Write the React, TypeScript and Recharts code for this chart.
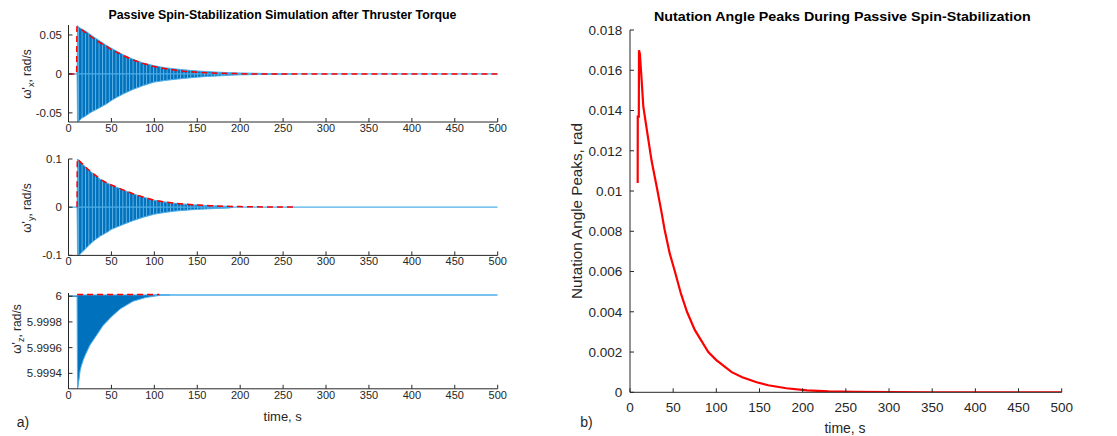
import React from 'react';
import { ComposedChart, LineChart, Line, Area, XAxis, YAxis } from 'recharts';

// ---------- data ----------
const timeTicks = [0, 50, 100, 150, 200, 250, 300, 350, 400, 450, 500];
const wxTicks = [-0.05, 0, 0.05];
const wyTicks = [-0.1, 0, 0.1];
const wzTicks = [5.9994, 5.9996, 5.9998, 6];
const nutTicks = [0, 0.002, 0.004, 0.006, 0.008, 0.01, 0.012, 0.014, 0.016, 0.018];

// omega_x oscillation envelope (upper / lower)
const wxBandTimes = [10, 10.5, 12, 15, 20, 25, 30, 37, 45, 50, 58, 65, 75, 87, 100, 112, 125, 137, 150, 162, 175, 187, 200, 215, 235, 260];
const wxHigh = [0, 0.062, 0.06, 0.058, 0.055, 0.051, 0.047, 0.042, 0.036, 0.033, 0.028, 0.024, 0.019, 0.014, 0.0105, 0.008, 0.0064, 0.005, 0.0038, 0.003, 0.0022, 0.0016, 0.0012, 0.0009, 0.0005, 0];
const wxLow = [0, -0.062, -0.061, -0.057, -0.054, -0.05, -0.047, -0.043, -0.038, -0.034, -0.029, -0.025, -0.02, -0.015, -0.0105, -0.0085, -0.0068, -0.0055, -0.0042, -0.0032, -0.0025, -0.0018, -0.0012, -0.0009, -0.0005, 0];
const wxPeakTimes = [0, 9.5, 9.8, 15, 20, 25, 30, 37, 45, 50, 58, 65, 75, 87, 100, 112, 125, 134, 150, 165, 180, 195, 210, 500];
const wxPeaks = [0, 0, 0.06, 0.057, 0.053, 0.049, 0.045, 0.04, 0.035, 0.031, 0.027, 0.023, 0.018, 0.0135, 0.0094, 0.007, 0.0048, 0.0035, 0.0022, 0.0012, 0.0008, 0.0004, 0, 0];
const wxBaseTimes = [0, 500];
const wxBase = [0, 0];

// omega_y oscillation envelope
const wyBandTimes = [10, 10.5, 12, 15, 20, 25, 30, 37, 45, 50, 58, 65, 75, 87, 100, 112, 125, 137, 150, 162, 175, 187, 192];
const wyHigh = [0, 0.1, 0.098, 0.092, 0.083, 0.075, 0.068, 0.058, 0.05, 0.046, 0.04, 0.035, 0.028, 0.021, 0.0145, 0.011, 0.008, 0.0062, 0.0045, 0.0035, 0.0025, 0.0018, 0];
const wyLow = [0, -0.1, -0.1, -0.095, -0.086, -0.077, -0.069, -0.06, -0.052, -0.046, -0.04, -0.035, -0.028, -0.021, -0.0145, -0.011, -0.008, -0.0062, -0.0045, -0.0035, -0.0025, -0.0018, 0];
const wyPeakTimes = [10, 10.2, 15, 20, 25, 30, 37, 45, 50, 58, 65, 75, 87, 100, 112, 125, 137, 150, 165, 180, 200, 230, 262];
const wyPeaks = [0, 0.1, 0.092, 0.083, 0.075, 0.068, 0.058, 0.05, 0.046, 0.04, 0.035, 0.028, 0.021, 0.0145, 0.011, 0.008, 0.006, 0.0045, 0.003, 0.002, 0.0012, 0.0005, 0.0002];
const wyBaseTimes = [0, 500];
const wyBase = [0, 0];

// omega_z oscillation envelope
const wzBandTimes = [10, 10.5, 11, 12, 13.5, 15, 17.5, 20, 25, 30, 35, 40, 50, 60, 75, 90, 100, 110, 118];
const wzLow = [6.0, 5.99928, 5.99929, 5.99934, 5.99942, 5.99946, 5.99951, 5.99955, 5.99962, 5.99967, 5.99972, 5.99977, 5.99984, 5.9999, 5.99996, 5.99999, 6.0, 6.00001, 6.00001];
const wzHigh = [6.0, 6.00001, 6.00001, 6.00001, 6.00001, 6.00001, 6.00001, 6.00001, 6.00001, 6.00001, 6.00001, 6.00001, 6.00001, 6.00001, 6.00001, 6.00001, 6.00001, 6.00001, 6.00001];
const wzPeakTimes = [10, 106];
const wzPeaks = [6.000013, 6.000013];
const wzStartTimes = [0, 10];
const wzStart = [6.0, 6.0];
const wzEndTimes = [100, 500];
const wzEnd = [6.00001, 6.00001];

// nutation angle peaks
const nutTimes = [8.9, 9.0, 10.2, 10.4, 11.5, 12.7, 13.5, 15.4, 20, 25, 31, 36.7, 40, 46, 52, 59, 66, 75, 90.7, 100, 117.8, 130, 146.7, 160, 181, 205, 230, 260, 300, 350, 400, 450, 500];
const nutPeaks = [0.0104, 0.0137, 0.0137, 0.017, 0.0168, 0.016, 0.0155, 0.0142, 0.0129, 0.0115, 0.0102, 0.0089, 0.0081, 0.0069, 0.006, 0.0049, 0.004, 0.0031, 0.002, 0.0016, 0.001, 0.00075, 0.0005, 0.00035, 0.0002, 0.0001, 0.00005, 0.00002, 0.00001, 0, 0, 0, 0];

// ---------- helpers ----------
const toPts = (ts: number[], vs: number[]) => ts.map((t, i) => ({ t, v: vs[i] }));
const toBand = (ts: number[], lo: number[], hi: number[]) => ts.map((t, i) => ({ t, band: [lo[i], hi[i]] }));

const AX = '#262626';
const FONT = '"Liberation Sans", Arial, Helvetica, sans-serif';
const DARK_BLUE = '#0072BD';
const LIGHT_BLUE = '#4DAEEA';
const RED = '#FF0000';

const leftTick = (len: number, gap: number, fs: number) => (p: any) => (
  <g>
    <line x1={p.x} y1={p.y} x2={p.x + len} y2={p.y} stroke={AX} strokeWidth={1} />
    <text x={p.x - gap} y={p.y} dy="0.355em" textAnchor="end" fontSize={fs} fill={AX} fontFamily={FONT}>
      {String(p.payload.value)}
    </text>
  </g>
);
const rightTick = (len: number) => (p: any) => (
  <line x1={p.x} y1={p.y} x2={p.x - len} y2={p.y} stroke={AX} strokeWidth={1} />
);
const bottomTick = (len: number, gap: number, fs: number) => (p: any) => (
  <g>
    <line x1={p.x} y1={p.y} x2={p.x} y2={p.y - len} stroke={AX} strokeWidth={1} />
    <text x={p.x} y={p.y + gap} dy="0.71em" textAnchor="middle" fontSize={fs} fill={AX} fontFamily={FONT}>
      {String(p.payload.value)}
    </text>
  </g>
);
const topTick = (len: number) => (p: any) => (
  <line x1={p.x} y1={p.y} x2={p.x} y2={p.y + len} stroke={AX} strokeWidth={1} />
);

const LEFT_PLOT_X0 = 68.5;
const LEFT_PLOT_X1 = 497.7;

type PanelProps = {
  plotTop: number;
  plotH: number;
  domain: [number, number];
  ticks: number[];
  children: React.ReactNode;
};

function Panel({ plotTop, plotH, domain, ticks, children }: PanelProps) {
  const W = 560;
  return (
    <div style={{ position: 'absolute', left: 0, top: plotTop - 10, width: W, height: plotH + 40 }}>
      <ComposedChart width={W} height={plotH + 40} margin={{ top: 10, right: W - LEFT_PLOT_X1, bottom: 0, left: 0 }}>
        <defs>
          <pattern id="oscStripes" x="0" y="0" width="3.4" height="8" patternUnits="userSpaceOnUse">
            <rect x="0" y="0" width="3.4" height="8" fill={DARK_BLUE} />
            <rect x="0" y="0" width="0.9" height="8" fill="#7CC3EE" opacity={0.85} />
          </pattern>
        </defs>
        <XAxis xAxisId="b" type="number" dataKey="t" domain={[0, 500]} ticks={timeTicks} interval={0}
          height={30} tickSize={0} tickMargin={0} tickLine={false} axisLine={{ stroke: AX }}
          tick={bottomTick(4, 2, 11)} allowDataOverflow />
        <XAxis xAxisId="t" orientation="top" type="number" dataKey="t" domain={[0, 500]} ticks={timeTicks} interval={0}
          height={0} tickSize={0} tickMargin={0} tickLine={false} axisLine={{ stroke: AX }}
          tick={topTick(4)} allowDataOverflow />
        <YAxis yAxisId="l" type="number" domain={domain} ticks={ticks} interval={0} width={LEFT_PLOT_X0}
          tickSize={0} tickMargin={0} tickLine={false} axisLine={{ stroke: AX }}
          tick={leftTick(4, 6.5, 11.5)} allowDataOverflow />
        <YAxis yAxisId="r" orientation="right" type="number" domain={domain} ticks={ticks} interval={0} width={0}
          tickSize={0} tickMargin={0} tickLine={false} axisLine={{ stroke: AX }}
          tick={rightTick(4)} allowDataOverflow />
        {children}
      </ComposedChart>
    </div>
  );
}

const bandArea = (key: string, data: any[], fill: string) => (
  <Area key={key} xAxisId="b" yAxisId="l" data={data} dataKey="band" type="linear"
    fill={fill} fillOpacity={1} stroke={LIGHT_BLUE} strokeWidth={1}
    dot={false} activeDot={false} isAnimationActive={false} />
);
const line = (key: string, data: any[], color: string, width: number, dash?: string) => (
  <Line key={key} xAxisId="b" yAxisId="l" data={data} dataKey="v" type="linear"
    stroke={color} strokeWidth={width} strokeDasharray={dash} dot={false} activeDot={false}
    isAnimationActive={false} />
);

function YLabel({ x, y, sub }: { x: number; y: number; sub: string }) {
  return (
    <text transform={`translate(${x},${y}) rotate(-90)`} textAnchor="middle" fontSize={12} fill={AX} fontFamily={FONT}>
      <tspan>ω'</tspan>
      <tspan fontSize={9} dy={3}>{sub}</tspan>
      <tspan dy={-3}>, rad/s</tspan>
    </text>
  );
}

export default function App() {
  return (
    <div style={{ position: 'absolute', left: 0, top: 0, width: 1117, height: 436, background: '#fff', overflow: 'hidden' }}>
      <Panel plotTop={25.2} plotH={97} domain={[-0.0617, 0.0628]} ticks={wxTicks}>
        {line('wxb', toPts(wxBaseTimes, wxBase), LIGHT_BLUE, 1.2)}
        {bandArea('wxband', toBand(wxBandTimes, wxLow, wxHigh), 'url(#oscStripes)')}
        {line('wxp', toPts(wxPeakTimes, wxPeaks), RED, 1.5, '6 4')}
      </Panel>
      <Panel plotTop={159.4} plotH={96.4} domain={[-0.1, 0.1]} ticks={wyTicks}>
        {line('wyb', toPts(wyBaseTimes, wyBase), LIGHT_BLUE, 1.2)}
        {bandArea('wyband', toBand(wyBandTimes, wyLow, wyHigh), 'url(#oscStripes)')}
        {line('wyp', toPts(wyPeakTimes, wyPeaks), RED, 1.5, '6 4')}
      </Panel>
      <Panel plotTop={292.7} plotH={95.8} domain={[5.99928, 6.000025]} ticks={wzTicks}>
        {line('wzs', toPts(wzStartTimes, wzStart), DARK_BLUE, 1.2)}
        {line('wze', toPts(wzEndTimes, wzEnd), LIGHT_BLUE, 1.5)}
        {bandArea('wzband', toBand(wzBandTimes, wzLow, wzHigh), DARK_BLUE)}
        {line('wzp', toPts(wzPeakTimes, wzPeaks), RED, 1.5, '6 4')}
      </Panel>

      <div style={{ position: 'absolute', left: 560, top: 20, width: 557, height: 400 }}>
        <LineChart width={557} height={400} margin={{ top: 10, right: 55.3, bottom: 0, left: 0 }}>
          <XAxis type="number" dataKey="t" domain={[0, 500]} ticks={timeTicks} interval={0}
            height={27.7} tickSize={0} tickMargin={0} tickLine={false} axisLine={{ stroke: AX }}
            tick={bottomTick(4, 10, 13.5)} allowDataOverflow />
          <YAxis type="number" domain={[0, 0.018]} ticks={nutTicks} interval={0} width={70}
            tickSize={0} tickMargin={0} tickLine={false} axisLine={{ stroke: AX }}
            tick={leftTick(4, 7.7, 13.5)} allowDataOverflow />
          <Line data={toPts(nutTimes, nutPeaks)} dataKey="v" type="linear" stroke={RED} strokeWidth={2.2}
            dot={false} activeDot={false} isAnimationActive={false} />
        </LineChart>
      </div>

      <svg width={1117} height={436} style={{ position: 'absolute', left: 0, top: 0, pointerEvents: 'none' }}>
        <text x={282.5} y={15} dy="0.355em" textAnchor="middle" fontSize={12} fontWeight="bold" fill="#000" fontFamily={FONT}
          textLength={348} lengthAdjust="spacingAndGlyphs">
          Passive Spin-Stabilization Simulation after Thruster Torque
        </text>
        <YLabel x={31} y={74} sub="x" />
        <YLabel x={31} y={208} sub="y" />
        <YLabel x={21} y={329} sub="z" />
        <text x={282.7} y={416.7} dy="0.355em" textAnchor="middle" fontSize={13} fill={AX} fontFamily={FONT}>time, s</text>
        <text x={23} y={422.5} dy="0.355em" textAnchor="middle" fontSize={14} fill={AX} fontFamily={FONT}>a)</text>

        <text x={842.3} y={16} dy="0.355em" textAnchor="middle" fontSize={13.5} fontWeight="bold" fill="#000" fontFamily={FONT}
          textLength={376.7} lengthAdjust="spacingAndGlyphs">
          Nutation Angle Peaks During Passive Spin-Stabilization
        </text>
        <text transform="translate(582,211) rotate(-90)" textAnchor="middle" fontSize={14} fill={AX} fontFamily={FONT}
          textLength={176} lengthAdjust="spacingAndGlyphs">
          Nutation Angle Peaks, rad
        </text>
        <text x={845} y={428} dy="0.355em" textAnchor="middle" fontSize={14} fill={AX} fontFamily={FONT}>time, s</text>
        <text x={586.5} y={422} dy="0.355em" textAnchor="middle" fontSize={14} fill={AX} fontFamily={FONT}>b)</text>
      </svg>
    </div>
  );
}
